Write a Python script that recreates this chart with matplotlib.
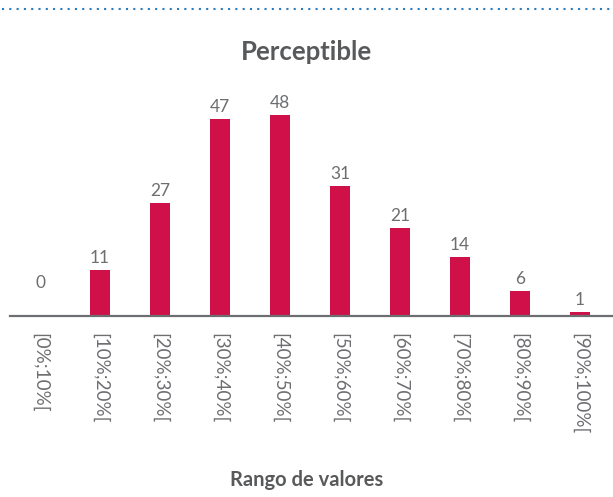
import matplotlib.pyplot as plt
from matplotlib.lines import Line2D

categories = ['[0%;10%[', '[10%;20%[', '[20%;30%[', '[30%;40%[', '[40%;50%[',
              '[50%;60%[', '[60%;70%[', '[70%;80%[', '[80%;90%[', '[90%;100%[']
values = [0, 11, 27, 47, 48, 31, 21, 14, 6, 1]

plt.rcParams['font.family'] = ['Lato', 'DejaVu Sans']
gray = '#58595b'
light = '#6d6e71'
red = '#d01048'

fig = plt.figure(figsize=(6.13, 4.97), dpi=100)
ax = fig.add_axes([10 / 613, (497 - 316) / 497, 603 / 613, 230.4 / 497])

x = list(range(len(values)))
ax.bar(x, values, width=0.34, color=red, zorder=2)
ax.set_xlim(-0.5, 9.55)
ax.set_ylim(0, 55)

for xi, v in zip(x, values):
    off = 18 if v == 0 else 3
    ax.annotate(str(v), (xi, v), xytext=(0, off), textcoords='offset points',
                ha='center', va='bottom', fontsize=12.5, color=light)

for s in ['top', 'right', 'left']:
    ax.spines[s].set_visible(False)
ax.spines['bottom'].set_color('#6d6e71')
ax.spines['bottom'].set_linewidth(1.6)
ax.spines['bottom'].set_zorder(3)
ax.set_yticks([])
ax.set_xticks(x)
ax.set_xticklabels(categories, rotation=-90, fontsize=13.5, color=light,
                   va='top')
ax.tick_params(axis='x', length=0, pad=12)

fig.text(0.5, 1 - 52 / 497, 'Perceptible', ha='center', va='center',
         fontsize=18.5, fontweight='bold', color=gray)
fig.text(0.5, 1 - 480 / 497, 'Rango de valores', ha='center', va='center',
         fontsize=14.5, fontweight='bold', color=gray)

fig.add_artist(Line2D([0.004, 1], [1 - 9 / 497, 1 - 9 / 497],
                      transform=fig.transFigure, color='#2b7bbf', lw=1.5,
                      linestyle=(0, (1, 2.5))))

fig.savefig('out.png', dpi=100)
